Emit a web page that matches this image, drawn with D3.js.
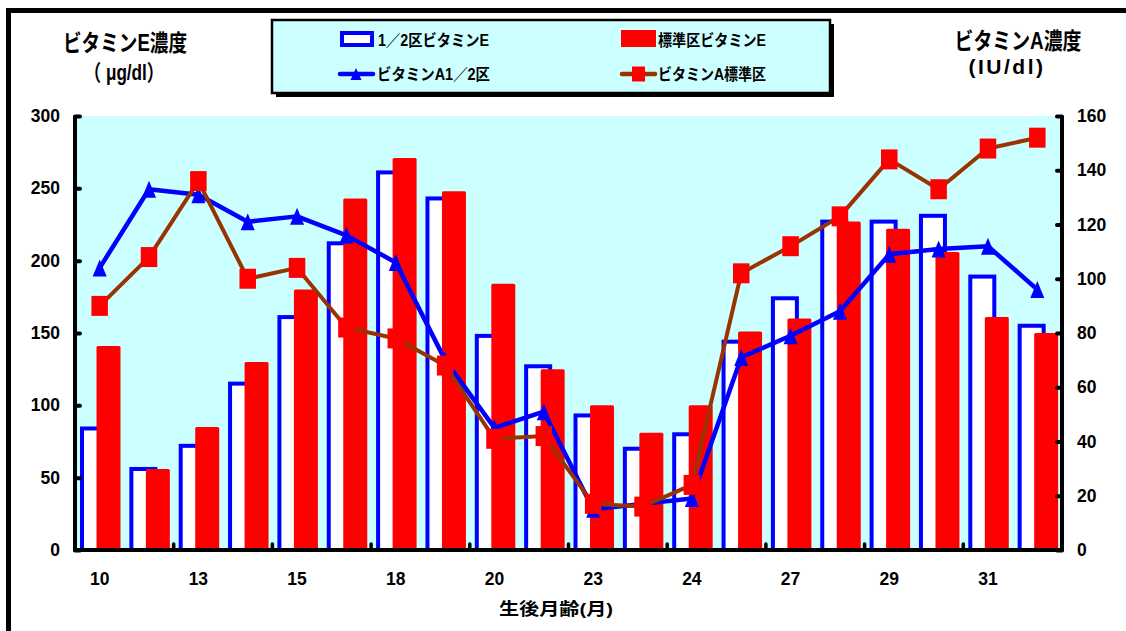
<!DOCTYPE html>
<html><head><meta charset="utf-8">
<script src="https://cdn.jsdelivr.net/npm/d3@7"></script>
<style>
html,body{margin:0;padding:0;background:#fff;}
svg{display:block;}
text{font-family:"Liberation Sans","Noto Sans CJK JP",sans-serif;font-weight:bold;fill:#000;}
</style></head><body>
<svg id="chart" width="1126" height="631"></svg>
<script>
// Age in months; labels shown on every other category
const categories = ["10","","13","","15","","18","","20","","23","","24","","27","","29","","31",""];
const tickLabels = ["10","13","15","18","20","23","24","27","29","31"];
// Vitamin E (µg/dl), left axis
const vitEHalf = [84,56,72,115,161,212,261,243,148,127,93,70,80,144,174,227,227,231,189,155];
const vitEStd  = [141,56,85,130,180,243,271,248,184,125,100,81,100,151,160,227,222,206,161,150];
// Vitamin A (IU/dl), right axis
const vitAHalf = [104,133,131,121,123,116,106,70,45,51,15,17,19,71,79,88,109,111,112,96];
const vitAStd  = [90,108,136,100,104,82,78,68,41,42,17,16,24,102,112,123,144,133,148,152];
const leftTicks = [0,50,100,150,200,250,300];
const rightTicks = [0,20,40,60,80,100,120,140,160];
const seriesNames = ["1／2区ビタミンE","標準区ビタミンE","ビタミンA1／2区","ビタミンA標準区"];

const svg = d3.select("#chart");
const L = 75, R = 1062, T = 116, B = 550;
const BLUE = "#0000ff", RED = "#ff0000", BROWN = "#993300", BG = "#ccffff";

// outer frame
svg.append("rect").attr("x",8.5).attr("y",10.5).attr("width",1200).attr("height",700)
  .attr("fill","none").attr("stroke","#000").attr("stroke-width",5);

const x = d3.scaleBand().domain(d3.range(categories.length)).range([L,R]);
const bw = x.bandwidth();
const yL = d3.scaleLinear().domain([0,300]).range([B,T]);
const yR = d3.scaleLinear().domain([0,160]).range([B,T]);

// plot area
svg.append("rect").attr("x",L).attr("y",T).attr("width",R-L).attr("height",B-T).attr("fill",BG);

// bars
const g = svg.append("g");
g.selectAll("rect.half").data(vitEHalf).join("rect").attr("class","half")
  .attr("x",(d,i)=>x(i)+bw*0.142).attr("width",bw*0.486)
  .attr("y",d=>yL(d)).attr("height",d=>B-yL(d))
  .attr("fill","#fff").attr("stroke",BLUE).attr("stroke-width",4);
g.selectAll("rect.std").data(vitEStd).join("rect").attr("class","std")
  .attr("x",(d,i)=>x(i)+bw*0.436).attr("width",bw*0.486)
  .attr("y",d=>yL(d)).attr("height",d=>B-yL(d))
  .attr("fill",RED).attr("rx",1.5);

// lines
const cx = i => x(i)+bw/2;
const line = d3.line().x((d,i)=>cx(i)).y(d=>yR(d));
const triPath = "M0,-8.5L7,8.5L-7,8.5Z";
const sqPath = "M-8.25,-10H8.25V10H-8.25Z";

svg.append("path").datum(vitAHalf).attr("d",line).attr("fill","none")
  .attr("stroke",BLUE).attr("stroke-width",4.5).attr("stroke-linejoin","round");
svg.selectAll("path.tri").data(vitAHalf).join("path").attr("class","tri")
  .attr("d",triPath).attr("transform",(d,i)=>`translate(${cx(i)},${yR(d)})`).attr("fill",BLUE);

svg.append("path").datum(vitAStd).attr("d",line).attr("fill","none")
  .attr("stroke",BROWN).attr("stroke-width",4).attr("stroke-linejoin","round");
svg.selectAll("path.sq").data(vitAStd).join("path").attr("class","sq")
  .attr("d",sqPath).attr("transform",(d,i)=>`translate(${cx(i)},${yR(d)})`).attr("fill",RED);

// axes
const axL = svg.append("g").attr("transform",`translate(${L},0)`)
  .call(d3.axisLeft(yL).tickValues(leftTicks).tickSize(-5).tickPadding(15));
const axR = svg.append("g").attr("transform",`translate(${R},0)`)
  .call(d3.axisRight(yR).tickValues(rightTicks).tickSize(-5).tickPadding(15));
[axL,axR].forEach(a=>{
  a.select(".domain").remove();
  a.selectAll(".tick line").attr("stroke","#000").attr("stroke-width",4).attr("stroke-linecap","round");
  a.selectAll(".tick text").style("font-size","17.5px").attr("font-family",null);
});
axL.selectAll(".tick text").attr("text-anchor","end");
const axB = svg.append("g").attr("transform",`translate(0,${B})`)
  .call(d3.axisBottom(x).tickValues(d3.range(0,categories.length,2))
    .tickFormat(i=>tickLabels[i/2]).tickSize(0).tickPadding(23));
axB.select(".domain").remove();
axB.selectAll(".tick text").style("font-size","17.5px").attr("font-family",null);
svg.append("g").selectAll("line").data(d3.range(2,categories.length,2)).join("line")
  .attr("x1",i=>x(i)).attr("x2",i=>x(i)).attr("y1",B).attr("y2",B-6)
  .attr("stroke","#000").attr("stroke-width",3.5).attr("stroke-linecap","round");

// axis lines
svg.append("path").attr("d",`M${L},${T}V${B}H${R}V${T}`).attr("fill","none")
  .attr("stroke","#000").attr("stroke-width",4).attr("stroke-linejoin","round");

// titles (y is the text baseline)
function label(txt,xc,yb,size,len){
  const t = svg.append("text").attr("x",xc).attr("y",yb).attr("text-anchor","middle")
    .style("font-size",size+"px").text(txt);
  if (len) t.attr("textLength",len).attr("lengthAdjust","spacingAndGlyphs");
}
label("ビタミンE濃度",125,51,23,124);
label("（ μg/dl）",124,80,22,80);
label("ビタミンA濃度",1018,49,23,127);
svg.append("text").attr("x",1007).attr("y",74).attr("text-anchor","middle")
  .style("font-size","21px").style("letter-spacing","2.5px").text("(IU/dl)");
label("生後月齢(月)",556,615,17,114);

// legend
const lg = svg.append("g");
lg.append("rect").attr("x",276).attr("y",24).attr("width",558).attr("height",73).attr("fill","#000");
lg.append("rect").attr("x",272).attr("y",20).attr("width",558).attr("height",73)
  .attr("fill",BG).attr("stroke","#000").attr("stroke-width",2.5);
lg.append("rect").attr("x",342).attr("y",33).attr("width",30).attr("height",12)
  .attr("fill","#fff").attr("stroke",BLUE).attr("stroke-width",4);
lg.append("rect").attr("x",621).attr("y",30).attr("width",35).attr("height",17).attr("fill",RED);
lg.append("line").attr("x1",340).attr("x2",373).attr("y1",74).attr("y2",74)
  .attr("stroke",BLUE).attr("stroke-width",4.5).attr("stroke-linecap","round");
lg.append("path").attr("d","M0,-6L5.5,6L-5.5,6Z").attr("transform","translate(356,74)").attr("fill",BLUE);
lg.append("line").attr("x1",622).attr("x2",655).attr("y1",74).attr("y2",74)
  .attr("stroke",BROWN).attr("stroke-width",4.5).attr("stroke-linecap","round");
lg.append("path").attr("d","M-6.5,-7.5H6.5V7.5H-6.5Z").attr("transform","translate(638.5,74)").attr("fill",RED);
const legTxt = [[378,46,111],[658,46,108],[377,80,113],[658,80,108]];
seriesNames.forEach((s,i)=>{
  lg.append("text").attr("x",legTxt[i][0]).attr("y",legTxt[i][1])
    .style("font-size","16px").attr("textLength",legTxt[i][2]).attr("lengthAdjust","spacingAndGlyphs").text(s);
});
</script>
</body></html>
